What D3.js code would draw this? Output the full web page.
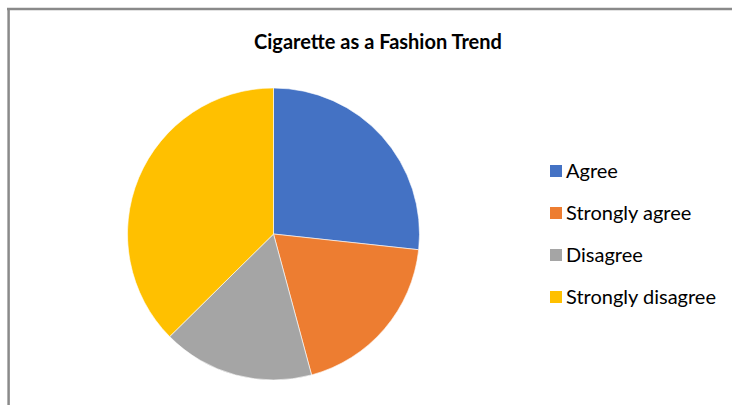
<!DOCTYPE html>
<html>
<head>
<meta charset="utf-8">
<script src="https://cdn.jsdelivr.net/npm/d3@7"></script>
<style>
  html, body { margin: 0; padding: 0; background: #ffffff; }
  svg { display: block; }
</style>
</head>
<body>
<svg id="chart" width="732" height="405"></svg>
<script>
const title = "Cigarette as a Fashion Trend";
const categories = ["Agree", "Strongly agree", "Disagree", "Strongly disagree"];
const values = [35, 25, 22, 49];
const colors = ["#4472C4", "#ED7D31", "#A5A5A5", "#FFC000"];

const svg = d3.select("#chart");
const W = 732, H = 405;

svg.append("rect").attr("x", 0).attr("y", 0).attr("width", W).attr("height", H).attr("fill", "#fff");

// chart area border (top and left visible)
svg.append("line").attr("x1", 7).attr("x2", W).attr("y1", 9).attr("y2", 9)
  .attr("stroke", "#8a8a8a").attr("stroke-width", 2.5);
svg.append("line").attr("x1", 8.6).attr("x2", 8.6).attr("y1", 8).attr("y2", H)
  .attr("stroke", "#8a8a8a").attr("stroke-width", 2.5);

const fontFamily = "Lato, 'Open Sans', 'Liberation Sans', sans-serif";

svg.append("text")
  .attr("x", 378).attr("y", 48.5)
  .attr("text-anchor", "middle")
  .attr("font-family", fontFamily)
  .attr("font-weight", "bold")
  .attr("font-size", 20)
  .attr("fill", "#000")
  .text(title);

const cx = 273.5, cy = 234, r = 146;
const pie = d3.pie().sort(null).value(d => d)(values);
const arc = d3.arc().innerRadius(0).outerRadius(r);
const color = d3.scaleOrdinal().domain(categories).range(colors);

const g = svg.append("g").attr("transform", `translate(${cx},${cy})`);
g.selectAll("path").data(pie).enter().append("path")
  .attr("d", arc)
  .attr("fill", (d, i) => color(categories[i]))
  .attr("stroke", "#fff").attr("stroke-width", 0.6);

const legendY = d3.scalePoint().domain(categories).range([171, 297]);
const lg = svg.append("g");
const items = lg.selectAll("g").data(categories).enter().append("g")
  .attr("transform", d => `translate(550,${legendY(d)})`);
items.append("rect").attr("x", 0).attr("y", -6).attr("width", 12).attr("height", 12)
  .attr("fill", d => color(d));
items.append("text").attr("x", 16).attr("y", 7)
  .attr("font-family", fontFamily).attr("font-size", 20)
  .attr("fill", "#000").text(d => d);
</script>
</body>
</html>
